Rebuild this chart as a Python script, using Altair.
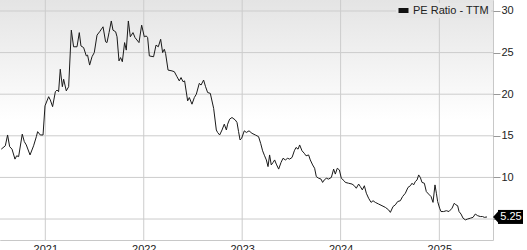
import altair as alt
import pandas as pd

# decimal year of each observation
years = [
    2020.553, 2020.594, 2020.617, 2020.638, 2020.662, 2020.692, 2020.709, 2020.729, 2020.766, 2020.787,
    2020.807, 2020.845, 2020.881, 2020.909, 2020.922, 2020.949, 2020.977, 2020.997, 2021.034, 2021.051,
    2021.074, 2021.102, 2021.119, 2021.135, 2021.152, 2021.173, 2021.186, 2021.213, 2021.237, 2021.264,
    2021.287, 2021.322, 2021.345, 2021.362, 2021.389, 2021.416, 2021.429, 2021.450, 2021.474, 2021.497,
    2021.525, 2021.551, 2021.586, 2021.612, 2021.626, 2021.647, 2021.670, 2021.687, 2021.714, 2021.728,
    2021.748, 2021.764, 2021.782, 2021.805, 2021.822, 2021.843, 2021.863, 2021.890, 2021.911, 2021.951,
    2021.978, 2022.005, 2022.025, 2022.039, 2022.056, 2022.099, 2022.124, 2022.147, 2022.171, 2022.191,
    2022.208, 2022.221, 2022.246, 2022.286, 2022.310, 2022.337, 2022.360, 2022.378, 2022.398, 2022.414,
    2022.445, 2022.462, 2022.489, 2022.513, 2022.533, 2022.563, 2022.581, 2022.607, 2022.627, 2022.648,
    2022.675, 2022.709, 2022.736, 2022.749, 2022.770, 2022.794, 2022.817, 2022.838, 2022.851, 2022.871,
    2022.895, 2022.929, 2022.946, 2022.962, 2022.977, 2022.993, 2023.020, 2023.041, 2023.068, 2023.098,
    2023.132, 2023.165, 2023.186, 2023.206, 2023.226, 2023.244, 2023.261, 2023.277, 2023.294, 2023.312,
    2023.328, 2023.345, 2023.369, 2023.393, 2023.413, 2023.437, 2023.460, 2023.480, 2023.505, 2023.528,
    2023.545, 2023.566, 2023.582, 2023.606, 2023.629, 2023.647, 2023.673, 2023.690, 2023.714, 2023.734,
    2023.751, 2023.775, 2023.799, 2023.815, 2023.832, 2023.853, 2023.876, 2023.904, 2023.927, 2023.944,
    2023.964, 2023.985, 2024.005, 2024.033, 2024.046, 2024.079, 2024.114, 2024.137, 2024.157, 2024.181,
    2024.198, 2024.218, 2024.239, 2024.259, 2024.282, 2024.307, 2024.327, 2024.350, 2024.384, 2024.418,
    2024.452, 2024.485, 2024.503, 2024.530, 2024.553, 2024.577, 2024.604, 2024.627, 2024.655, 2024.682,
    2024.706, 2024.723, 2024.739, 2024.756, 2024.774, 2024.790, 2024.807, 2024.824, 2024.848, 2024.868,
    2024.891, 2024.916, 2024.936, 2024.956, 2024.970, 2024.983, 2025.003, 2025.017, 2025.044, 2025.071,
    2025.098, 2025.129, 2025.152, 2025.169, 2025.186, 2025.200, 2025.220, 2025.241, 2025.264, 2025.287,
    2025.315, 2025.342, 2025.365, 2025.389, 2025.416, 2025.439, 2025.457, 2025.484,
]

pe_ratio = [
    13.4, 13.8, 15.1, 13.7, 13.4, 12.2, 12.6, 12.5, 15.2, 14.3,
    13.9, 12.7, 13.8, 14.9, 15.5, 15.1, 15.1, 18.6, 19.7, 19.3,
    18.5, 20.3, 20.5, 20.3, 23.0, 20.9, 21.8, 20.4, 20.9, 27.7,
    25.7, 25.7, 27.4, 25.8, 25.6, 24.6, 24.7, 23.5, 24.5, 25.0,
    27.1, 27.5, 28.1, 26.3, 26.2, 27.4, 28.8, 27.7, 27.5, 26.9,
    24.0, 24.4, 23.9, 26.2, 25.3, 28.8, 26.9, 27.4, 26.8, 26.2,
    28.3, 26.9, 27.0, 26.8, 24.6, 24.5, 25.9, 25.7, 26.6, 25.0,
    25.4, 24.9, 22.9, 22.8, 22.7, 22.1, 21.6, 22.0, 21.5, 21.6,
    19.2, 19.6, 18.8, 19.6, 20.0, 21.3, 21.1, 21.7, 20.9, 20.2,
    20.1, 18.3, 15.7, 15.4, 15.1, 15.7, 16.4, 15.7, 16.4, 17.0,
    17.2, 16.9, 16.6, 15.5, 14.5, 14.7, 15.6, 15.4, 15.6, 15.3,
    15.1, 14.9, 14.1, 13.2, 12.6, 12.1, 11.3, 12.7, 11.5, 11.8,
    12.1, 11.6, 11.0, 11.8, 12.3, 12.1, 12.3, 12.2, 12.4, 13.2,
    13.6, 13.4, 13.9, 13.2, 12.9, 12.6, 12.7, 12.1, 11.5, 11.1,
    10.1, 9.9, 9.8, 9.4, 9.7, 9.9, 9.8, 10.0, 11.0, 10.4,
    11.1, 10.9, 9.9, 9.6, 9.4, 9.3, 9.2, 9.0, 8.7, 9.2,
    8.9, 8.5, 9.0, 8.1, 7.5, 7.0, 7.2, 7.0, 6.8, 6.6,
    6.4, 6.1, 5.8, 6.5, 6.7, 7.1, 7.2, 7.7, 8.1, 8.8,
    9.0, 9.3, 9.1, 9.5, 9.7, 10.3, 10.0, 9.4, 9.3, 8.3,
    8.0, 7.7, 7.0, 9.1, 8.1, 7.1, 6.3, 5.9, 5.9, 6.0,
    5.9, 6.3, 6.9, 6.7, 6.6, 5.9, 5.6, 5.1, 4.9, 5.0,
    5.1, 5.2, 5.6, 5.4, 5.3, 5.3, 5.2, 5.25,
]

series_name = "PE Ratio - TTM"
year_ticks = [2021, 2022, 2023, 2024, 2025]
y_ticks = [5, 10, 15, 20, 25, 30]
x_domain = ["2020-07-17", "2025-07-19"]
y_domain = [2.48, 31.32]

W, H = 493, 240
GRID = "#cccccc"
FONT = "Liberation Sans"

base_day = pd.Timestamp("2021-01-01")
dates = [base_day + pd.to_timedelta((y - 2021) * 365.25, unit="D") for y in years]
df = pd.DataFrame({"date": dates, "value": pe_ratio, "series": series_name})
last = df.tail(1).copy()
last["label"] = [f"{v:.2f}" for v in last["value"]]

tick_dates = [pd.Timestamp(f"{y}-01-01") for y in year_ticks]
xgrid_df = pd.DataFrame({"date": tick_dates})
ygrid_df = pd.DataFrame({"value": y_ticks})

x_scale = alt.Scale(domain=x_domain)
y_scale = alt.Scale(domain=y_domain, nice=False, zero=False)

x_enc = alt.X(
    "date:T",
    scale=x_scale,
    axis=alt.Axis(
        values=[d.isoformat() for d in tick_dates], format="%Y", title=None, grid=False,
        ticks=False, domain=False, labelFontSize=11, labelPadding=3, labelColor="#222",
        labelFont=FONT,
    ),
)
y_enc = alt.Y(
    "value:Q",
    scale=y_scale,
    axis=alt.Axis(
        orient="right", values=y_ticks, title=None, grid=False, ticks=True,
        tickSize=7, tickColor="#999999", domain=False, labelFontSize=11,
        labelPadding=1, labelColor="#222", labelFont=FONT,
        labelExpr="datum.value == 5 ? '' : datum.label",
    ),
)

background = alt.Chart(last).mark_rect(
    color=alt.LinearGradient(
        gradient="linear",
        stops=[
            alt.GradientStop(color="#e4e4e4", offset=0),
            alt.GradientStop(color="#ffffff", offset=0.5),
            alt.GradientStop(color="#ffffff", offset=1),
        ],
        x1=0, x2=0, y1=0, y2=1,
    )
).encode(x=alt.value(0), x2=alt.value(W), y=alt.value(0), y2=alt.value(H))

vgrid = alt.Chart(xgrid_df).mark_rule(color=GRID, strokeWidth=1).encode(
    x=alt.X("date:T", scale=x_scale)
)
hgrid = alt.Chart(ygrid_df).mark_rule(color=GRID, strokeWidth=1).encode(
    y=alt.Y("value:Q", scale=y_scale)
)

line = alt.Chart(df).mark_line(strokeWidth=1.0, clip=True).encode(
    x=x_enc,
    y=y_enc,
    color=alt.Color(
        "series:N",
        scale=alt.Scale(domain=[series_name], range=["#1a1a1a"]),
        legend=alt.Legend(
            title=None, orient="none", legendX=396, legendY=3,
            symbolType="M-1,-0.5H1V0.5H-1Z", symbolSize=100,
            symbolFillColor="#111111", symbolStrokeWidth=0,
            labelFontSize=11, labelFont=FONT, labelColor="#222",
            labelOffset=4, fillColor="#e6e6e6", padding=2,
        ),
    ),
)

# value tag: rectangle body plus a small left-pointing arrow
tag_body = alt.Chart(last).mark_rect(
    color="#000000", opacity=1, xOffset=11, x2Offset=36, yOffset=-7, y2Offset=7,
).encode(x="date:T", x2="date:T", y="value:Q", y2="value:Q")

tag_arrow = alt.Chart(last).mark_point(
    shape="M-1,0L0.3,-1.4L0.3,1.4Z", size=100, filled=True,
    color="#000000", opacity=1, xOffset=11,
).encode(x="date:T", y="value:Q")

label = alt.Chart(last).mark_text(
    color="white", fontSize=11, font=FONT, dx=24, align="center",
    baseline="middle",
).encode(x="date:T", y="value:Q", text="label:N")

chart = (
    alt.layer(background, vgrid, hgrid, line, tag_body, tag_arrow, label)
    .properties(
        width=W, height=H,
        padding={"left": 0, "top": 0, "right": 527 - W, "bottom": 250 - H},
        autosize=alt.AutoSizeParams(type="none"),
    )
    .configure_view(stroke="#c8c8c8")
)

chart.save("out.html", embed_options={"renderer": "svg", "actions": False})
